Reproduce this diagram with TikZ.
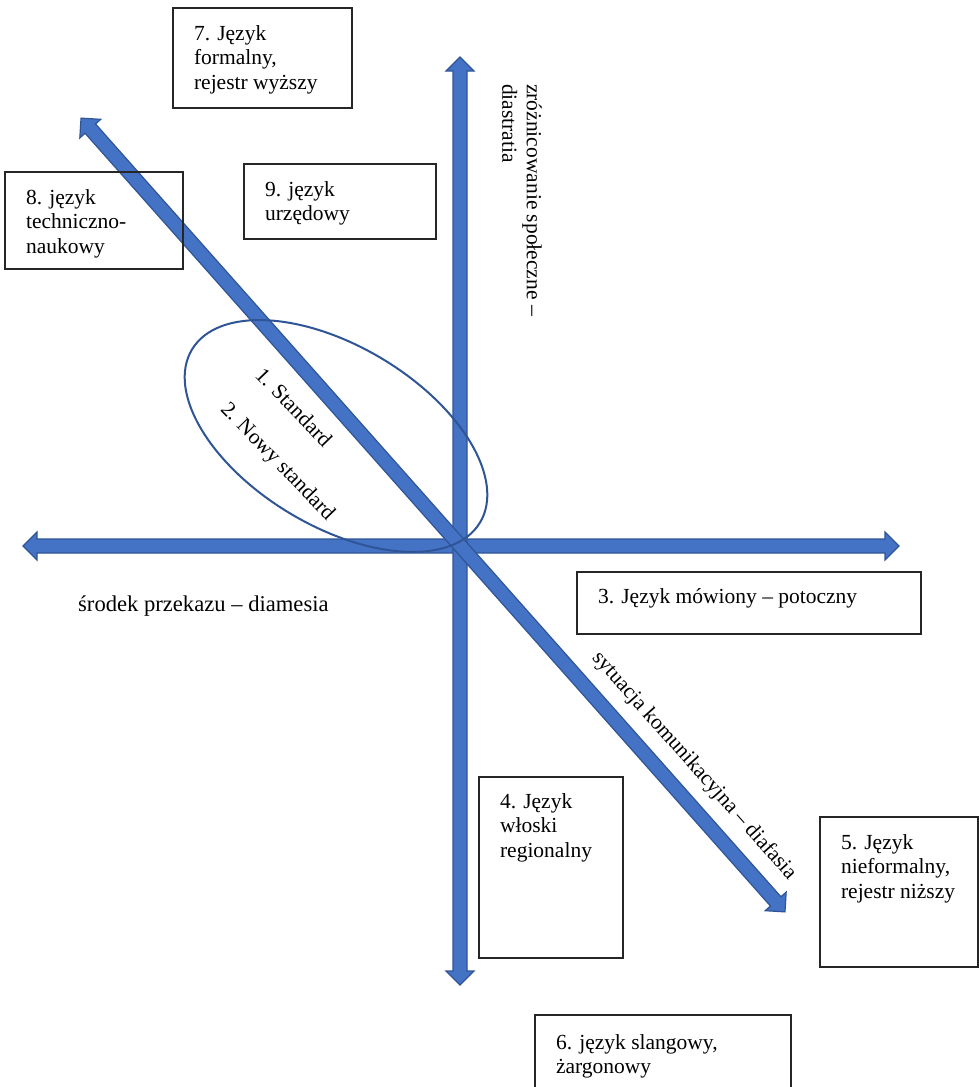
\documentclass[tikz,border=0pt]{standalone}
\usepackage{fontspec}
\setmainfont{Liberation Serif}
\definecolor{axfill}{HTML}{4472C4}
\definecolor{axline}{HTML}{2F5597}
\newcommand\DiagFont{\fontsize{21.5}{24.5}\selectfont}
\tikzset{
  axisarrow/.style={fill=axfill, draw=axline, line width=1.2, line join=miter},
  pics/dblarrow/.style={code={
    \path[axisarrow] ({-#1},0) -- ({-#1+14},14) -- ({-#1+14},7) -- ({#1-14},7)
      -- ({#1-14},14) -- ({#1},0) -- ({#1-14},-14) -- ({#1-14},-7)
      -- ({-#1+14},-7) -- ({-#1+14},-14) -- cycle;
  }},
  box/.style={draw=black!85, line width=1.3, inner sep=0},
  boxtext/.style={anchor=north west, align=left, inner sep=0, font=\DiagFont},
  lbl/.style={inner sep=0, font=\DiagFont},
  ring/.style={draw=axline, line width=2},
}
\begin{document}
\begin{tikzpicture}[x=1pt,y=-1pt]
\useasboundingbox (0,0) rectangle (979,1087);
\clip (0,0) rectangle (979,1087);
\fill[white] (0,0) rectangle (979,1087);
% axes
\pic at (461,546) {dblarrow=438};
\pic[rotate=90] at (460,521) {dblarrow=464};
\pic[rotate=-48.43] at (433,515) {dblarrow=530.5};
% ellipse
\draw[ring, rotate around={-31:(336,436)}] (336,436) ellipse [x radius=168, y radius=90];
% boxes
\node[box, minimum width=179, minimum height=100] (b7) at (262.5,58) {};
\node[box, minimum width=178, minimum height=97] (b8) at (94,220.5) {};
\node[box, minimum width=192, minimum height=75] (b9) at (340,201.5) {};
\node[box, minimum width=344, minimum height=62] (b3) at (749,603) {};
\node[box, minimum width=144, minimum height=181] (b4) at (551,867.5) {};
\node[box, minimum width=158, minimum height=150] (b5) at (899,892) {};
\node[box, minimum width=256, minimum height=85] (b6) at (663,1057.5) {};
% box texts
\node[boxtext] (t7) at ([shift={(21.5,18)}]b7.north west) {7. Język\\formalny,\\rejestr wyższy};
\node[boxtext] (t8) at ([shift={(21.5,18)}]b8.north west) {8. język\\techniczno-\\naukowy};
\node[boxtext] (t9) at ([shift={(21.5,18)}]b9.north west) {9. język\\urzędowy};
\node[boxtext] (t3) at ([shift={(21.5,17)}]b3.north west) {3. Język mówiony – potoczny};
\node[boxtext] (t4) at ([shift={(21.5,17)}]b4.north west) {4. Język\\włoski\\regionalny};
\node[boxtext] (t5) at ([shift={(21.5,18)}]b5.north west) {5. Język\\nieformalny,\\rejestr niższy};
\node[boxtext] (t6) at ([shift={(21.5,20)}]b6.north west) {6. język slangowy,\\żargonowy};
% axis labels
\node[lbl, anchor=base west, font=\fontsize{22.6}{25}\selectfont] (lh) at (78,611) {środek przekazu – diamesia};
\node[lbl, rotate=-90, align=left] (lv) at (522,200) {zróżnicowanie społeczne –\\diastratia};
\node[lbl, rotate=-48.43] (ld) at (694,766) {sytuacja komunikacyjna – diafasia};
\node[lbl, rotate=-46] (s1) at (294,407) {1. Standard};
\node[lbl, rotate=-46] (s2) at (277,462) {2. Nowy standard};
\end{tikzpicture}
\end{document}
